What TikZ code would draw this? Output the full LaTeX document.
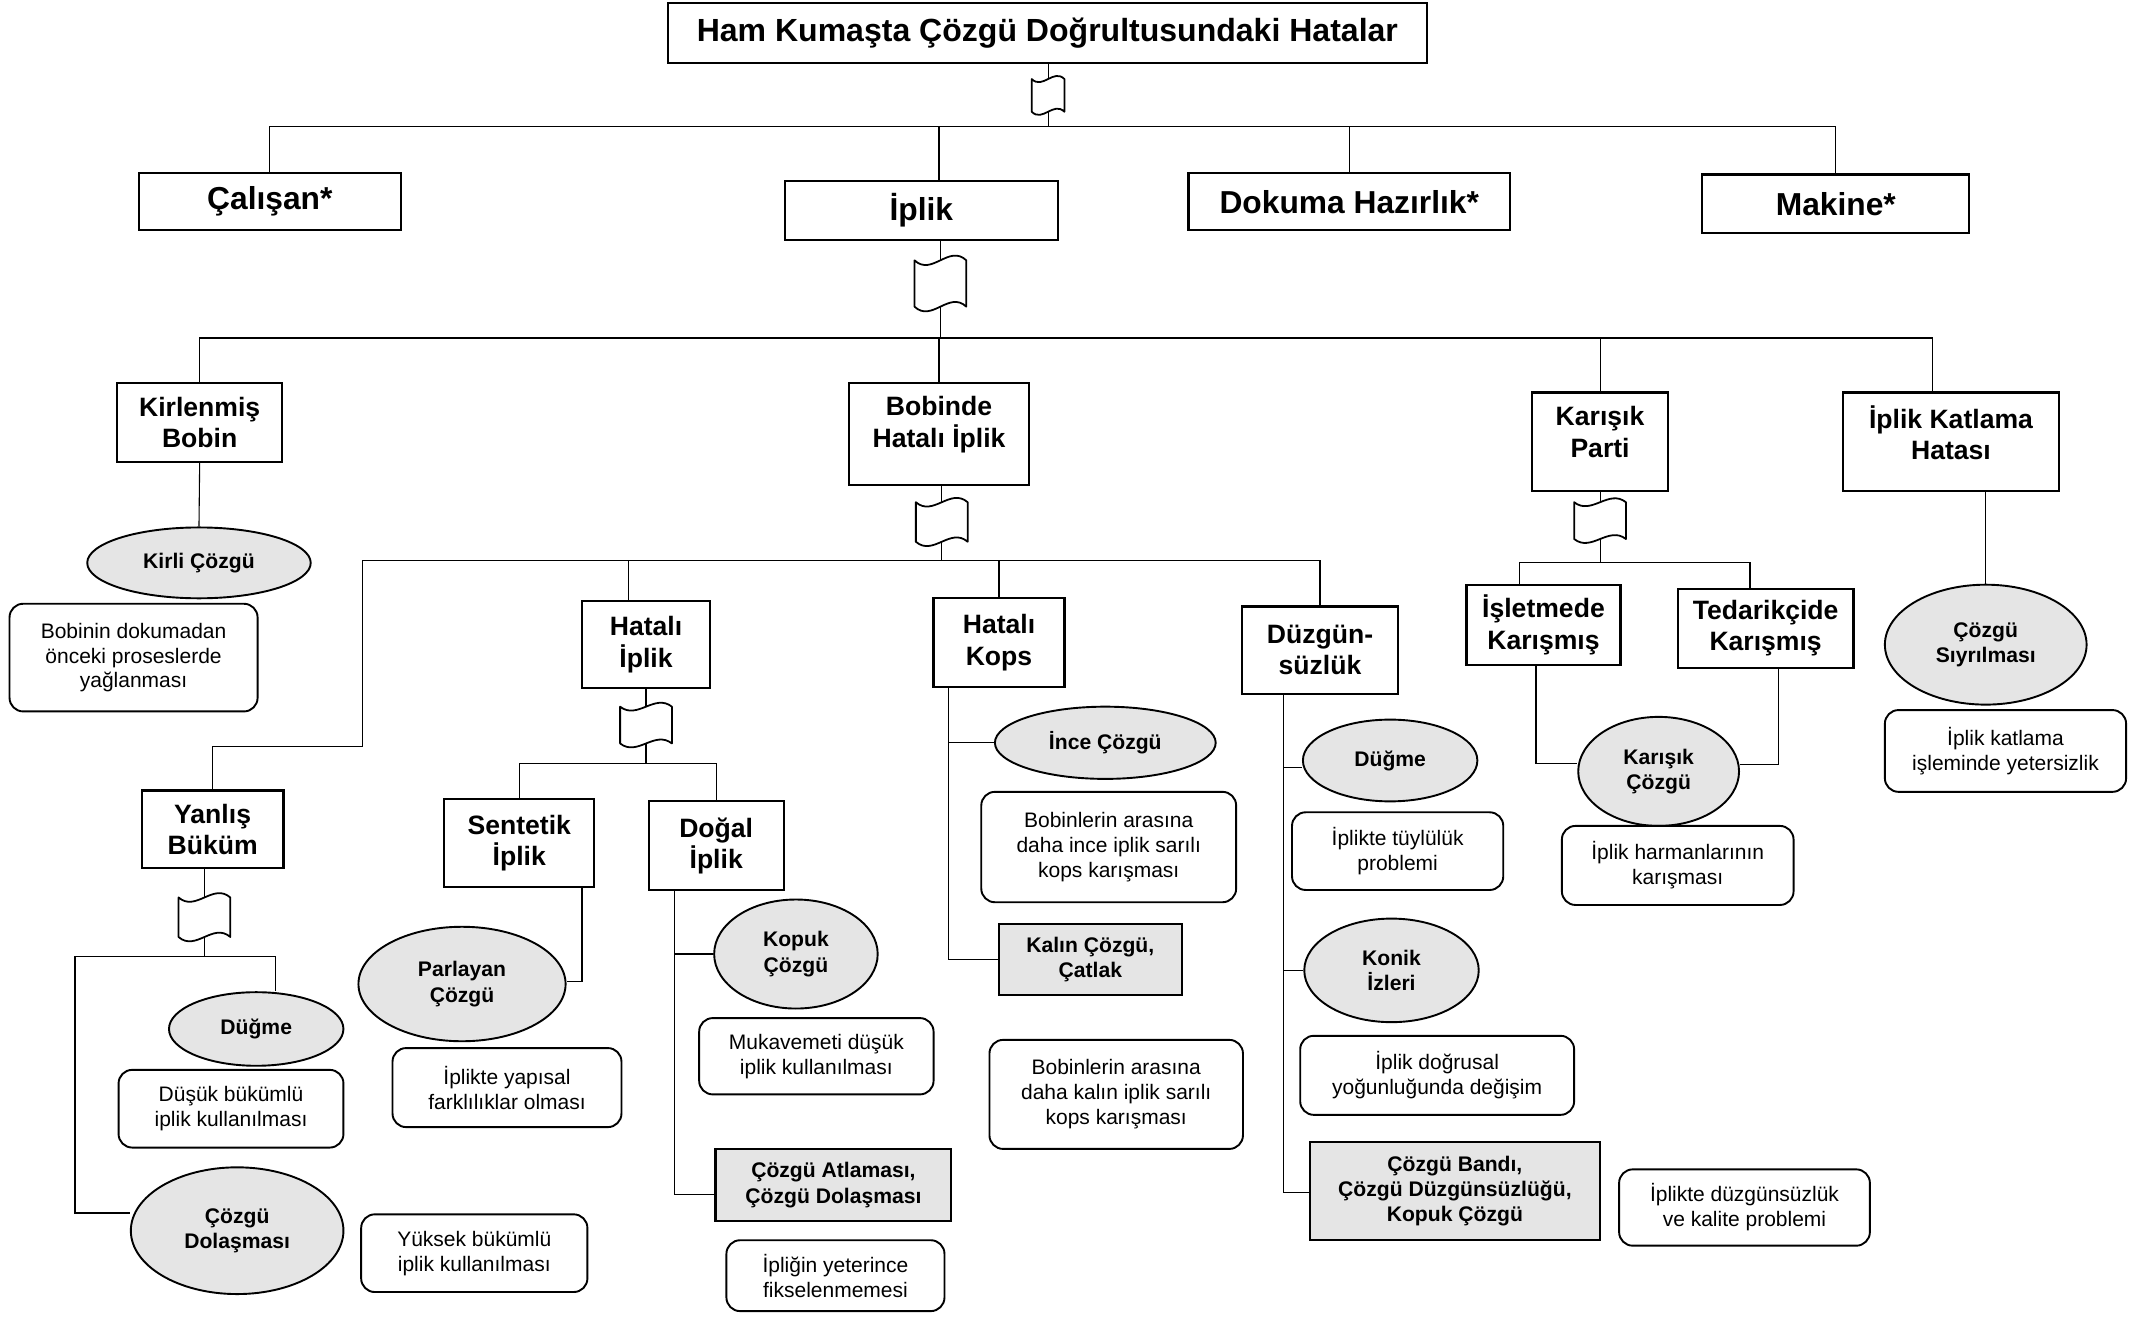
\documentclass[tikz,border=0pt]{standalone}
\usepackage{fontspec}
\setmainfont{Liberation Sans}
\usetikzlibrary{shapes.geometric}
\pgfdeclarelayer{bg}
\pgfsetlayers{bg,main}
\begin{document}
\begin{tikzpicture}[x=1pt,y=-1pt,
  t0/.style={font=\fontsize{23.5}{28}\selectfont\bfseries},
  t1/.style={font=\fontsize{23.3}{28}\selectfont\bfseries},
  t2/.style={font=\fontsize{19.5}{23}\selectfont\bfseries},
  t3/.style={font=\fontsize{15.5}{18.5}\selectfont\bfseries},
  t4/.style={font=\fontsize{15.4}{18.3}\selectfont},
  sz/.style 2 args={minimum width=#1pt, minimum height=#2pt},
  box/.style={draw, line width=1.6pt, align=center, inner sep=0pt},
  gbox/.style={box, fill=gray!20, t3},
  oval/.style={ellipse, draw, line width=1.4pt, fill=gray!20, align=center, inner sep=0pt, t3},
  note/.style={draw, rounded corners=10pt, line width=1.4pt, align=center, inner sep=0pt, t4},
  link/.style={line width=0.8pt},
  pics/tape/.style args={#1/#2/#3}{code={
    \draw[line width=1.3pt, fill=white, line join=round]
      (-#1/2,-#2/2) .. controls (-#1/6,-#2/2+#3) and (#1/6,-#2/2-#3) .. (#1/2,-#2/2)
      -- (#1/2,#2/2) .. controls (#1/6,#2/2-#3) and (-#1/6,#2/2+#3) .. (-#1/2,#2/2) -- cycle;
    \coordinate (-top) at (0,-#2/2);
    \coordinate (-bot) at (0,#2/2);
  }}
]
\useasboundingbox (0,0) rectangle (1568,966);

% ---- top level ----
\node[box, t0, sz={557}{44}] (title) at (768.5,24) {Ham Kumaşta Çözgü Doğrultusundaki Hatalar};
\pic (f1) at (769,70) {tape=24/24/8};

\node[box, t1, sz={192}{42}] (cal) at (198,148) {Çalışan*};
\node[box, t1, sz={200}{43}] (ipl) at (676,154.5) {İplik};
\node[box, t1, sz={236}{42}] (dok) at (990,148) {Dokuma Hazırlık*};
\node[box, t1, sz={196}{43}] (mak) at (1347,149.5) {Makine*};

\pic (f2) at (690,208) {tape=38/34/12};

% ---- second level ----
\node[box, t2, sz={121}{58}] (kb) at (146.5,310) {Kirlenmiş\\Bobin};
\node[box, sz={132}{75}, label={[t2,align=center,yshift=7pt]center:{Bobinde\\Hatalı İplik}}] (bhi) at (689,318.5) {};
\node[box, sz={100}{72}, label={[t2,align=center,yshift=7pt]center:{Karışık\\Parti}}] (kp) at (1174,324) {};
\node[box, sz={159}{72}, label={[t2,align=center,yshift=6.5pt]center:{İplik Katlama\\Hatası}}] (ikh) at (1431.5,324) {};

% Kirlenmiş Bobin
\node[oval, sz={164}{52}] (kc) at (146,413) {Kirli Çözgü};
\node[note, sz={182}{79}] (n1) at (98,482.5) {Bobinin dokumadan\\önceki proseslerde\\yağlanması};

% Bobinde Hatalı İplik
\pic (f3) at (691,383) {tape=38/29/11};
\node[box, t2, sz={94}{64}] (hi) at (474,473) {Hatalı\\İplik};
\node[box, t2, sz={96}{65}] (hk) at (733,471.5) {Hatalı\\Kops};
\node[box, t2, sz={115}{64}] (dz) at (968.5,477) {Düzgün-\\süzlük};
\node[box, t2, sz={104}{57}] (yb) at (156,608.5) {Yanlış\\Büküm};

% Hatalı İplik
\pic (f4) at (474,532) {tape=38/27/10};
\node[box, t2, sz={110}{65}] (sen) at (381,618.5) {Sentetik\\İplik};
\node[box, t2, sz={99}{65}] (dog) at (525.5,620.5) {Doğal\\İplik};
\node[oval, sz={152}{84}] (pc) at (339,722) {Parlayan\\Çözgü};
\node[note, sz={168}{58}] (n2) at (372,798) {İplikte yapısal\\farklılıklar olması};
\node[oval, sz={120}{80}] (kop) at (584,700) {Kopuk\\Çözgü};
\node[note, sz={172}{56}] (n3) at (599,775) {Mukavemeti düşük\\iplik kullanılması};
\node[gbox, sz={173}{53}] (ca) at (611.5,869.5) {Çözgü Atlaması,\\Çözgü Dolaşması};
\node[note, sz={160}{52}] (n4) at (613,936) {İpliğin yeterince\\fikselenmemesi};

% Hatalı Kops
\node[oval, sz={162}{53}] (ic) at (811,545) {İnce Çözgü};
\node[note, sz={187}{81}] (n5) at (813.5,621.5) {Bobinlerin arasına\\daha ince iplik sarılı\\kops karışması};
\node[gbox, sz={134}{52}] (kal) at (800,704) {Kalın Çözgü,\\Çatlak};
\node[note, sz={186}{80}] (n6) at (819,803) {Bobinlerin arasına\\daha kalın iplik sarılı\\kops karışması};

% Düzgünsüzlük
\node[oval, sz={128}{60}] (du1) at (1020,558) {Düğme};
\node[note, sz={155}{57}] (n7) at (1025.5,624.5) {İplikte tüylülük\\problemi};
\node[oval, sz={128}{76}] (ki) at (1021,712) {Konik\\İzleri};
\node[note, sz={201}{58}] (n8) at (1054.5,789) {İplik doğrusal\\yoğunluğunda değişim};
\node[gbox, sz={213}{72}] (cb) at (1067.5,874) {Çözgü Bandı,\\Çözgü Düzgünsüzlüğü,\\Kopuk Çözgü};
\node[note, sz={184}{56}] (n9) at (1280,886) {İplikte düzgünsüzlük\\ve kalite problemi};

% Karışık Parti
\pic (f5) at (1174,382) {tape=38/27/10};
\node[box, t2, sz={113}{59}] (is) at (1132.5,458.5) {İşletmede\\Karışmış};
\node[box, t2, sz={129}{58}] (td) at (1295.5,461) {Tedarikçide\\Karışmış};
\node[oval, sz={118}{80}] (kcz) at (1217,566) {Karışık\\Çözgü};
\node[note, sz={170}{58}] (n10) at (1231,635) {İplik harmanlarının\\karışması};

% İplik Katlama Hatası
\node[oval, sz={148}{88}] (cs) at (1457,473) {Çözgü\\Sıyrılması};
\node[note, sz={177}{60}] (n11) at (1471.5,551) {İplik katlama\\işleminde yetersizlik};

% Yanlış Büküm
\pic (f6) at (150,673) {tape=38/29/11};
\node[oval, sz={128}{54}] (du2) at (188,755) {Düğme};
\node[note, sz={165}{57}] (n12) at (169.5,813.5) {Düşük bükümlü\\iplik kullanılması};
\node[oval, sz={156}{93}] (cd) at (174,903) {Çözgü\\Dolaşması};
\node[note, sz={166}{57}] (n13) at (348,919.5) {Yüksek bükümlü\\iplik kullanılması};

% ---- connectors ----
\begin{pgfonlayer}{bg}
  % title to first level
  \draw[link] (f1-top |- title.south) -- (f1-top);
  \coordinate (j1) at (769,93);
  \coordinate (j1i) at (689,93);
  \draw[link] (f1-bot) -- (j1);
  \draw[link] (cal.north) -- (cal.north |- j1) -- (mak.north |- j1) -- (mak.north);
  \draw[link] (j1i) -- (j1i |- ipl.north);
  \draw[link] (dok.north) -- (dok.north |- j1);
  % İplik
  \draw[link] (f2-top |- ipl.south) -- (f2-top);
  \coordinate (j2) at (690,248);
  \coordinate (j2r) at (1418,248);
  \draw[link] (f2-bot) -- (j2);
  \draw[link] (kb.north) |- (j2r) -- (j2r |- ikh.north);
  \draw[link] (bhi.north) -- (bhi.north |- j2);
  \draw[link] (kp.north) -- (kp.north |- j2);
  % Kirlenmiş Bobin
  \draw[link] (kb.south) -- (kc.north);
  % Bobinde Hatalı İplik
  \draw[link] (f3-top |- bhi.south) -- (f3-top);
  \coordinate (j3) at (691,411);
  \coordinate (j3l) at (266,411);
  \coordinate (j3m) at (266,548);
  \coordinate (j3a) at (461,411);
  \draw[link] (f3-bot) -- (j3);
  \draw[link] (yb.north) |- (j3m) -- (j3l) -| (dz.north);
  \draw[link] (j3a) -- (j3a |- hi.north);
  \draw[link] (hk.north) -- (hk.north |- j3);
  % Hatalı İplik
  \draw[link] (hi.south) -- (f4-top);
  \coordinate (j4) at (474,560);
  \draw[link] (f4-bot) -- (j4);
  \draw[link] (sen.north) |- (j4) -| (dog.north);
  \draw[link] ([xshift=46pt]sen.south) |- ([yshift=2pt]pc.east);
  \coordinate (dv) at ([xshift=-30.5pt]dog.south);
  \draw[link] (dv) |- ([yshift=-7pt]ca.west);
  \draw[link] (kop.west) -- (kop.west -| dv);
  % Hatalı Kops
  \coordinate (kv) at ([xshift=-37pt]hk.south);
  \draw[link] (kv) |- (kal.west);
  \draw[link] (ic.west) -- (ic.west -| kv);
  % Düzgünsüzlük
  \coordinate (zv) at ([xshift=-26.5pt]dz.south);
  \draw[link] (zv) |- ([yshift=-1pt]cb.west);
  \draw[link] ([yshift=-5pt]du1.west) -- ([yshift=-5pt]du1.west -| zv);
  \draw[link] (ki.west) -- (ki.west -| zv);
  % Karışık Parti
  \draw[link] (kp.south) -- (f5-top);
  \coordinate (j5) at (1174,413);
  \coordinate (j5l) at (1115,413);
  \coordinate (j5r) at (1284,413);
  \draw[link] (f5-bot) -- (j5);
  \draw[link] (j5l |- is.north) -- (j5l) -- (j5r) -- (j5r |- td.north);
  \draw[link] ([xshift=-5.5pt]is.south) |- ([yshift=6pt]kcz.west);
  \draw[link] ([xshift=9.5pt]td.south) |- ([yshift=5pt]kcz.east);
  % İplik Katlama Hatası
  \draw[link] (cs.north |- ikh.south) -- (cs.north);
  % Yanlış Büküm
  \draw[link] (f6-top |- yb.south) -- (f6-top);
  \coordinate (j6) at (150,702);
  \coordinate (j6l) at (55,702);
  \coordinate (j6r) at (202,702);
  \draw[link] (f6-bot) -- (j6);
  \draw[link] (j6r |- du2.north) -- (j6r) -- (j6l) |- ([yshift=13pt]cd.west);
\end{pgfonlayer}
\end{tikzpicture}
\end{document}
